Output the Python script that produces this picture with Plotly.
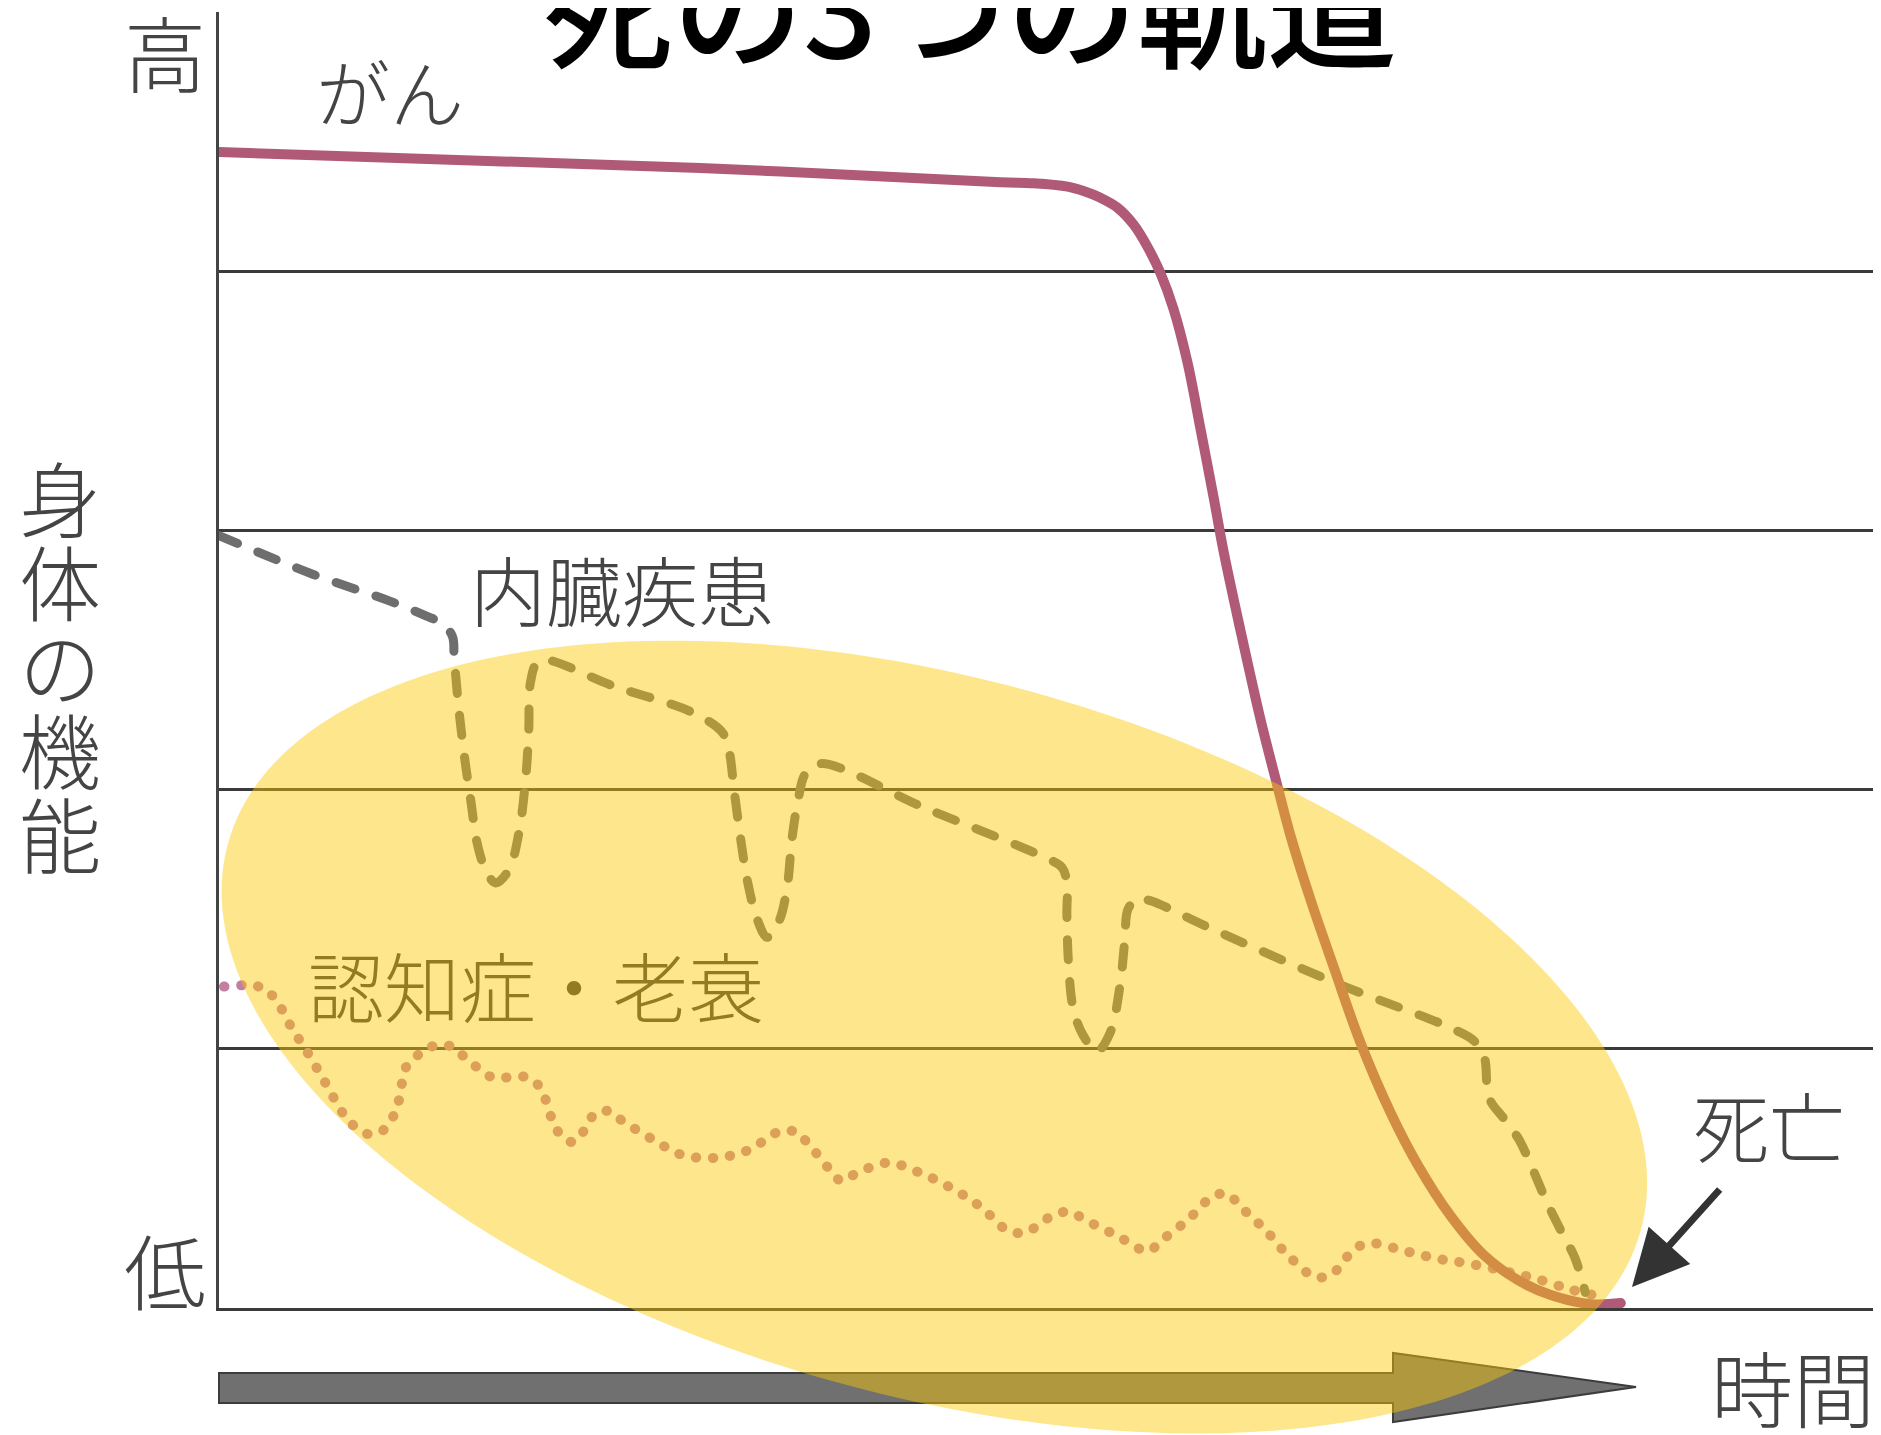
import numpy as np
import plotly.graph_objects as go

# ---------------- data ----------------
series_names = ['がん', '内臓疾患', '認知症・老衰']

cancer_x = [0, 29.06, 47.19, 49.18, 51.24, 52.21, 53.23, 54.26, 55.23, 56.07, 56.86, 57.64, 58.49,
            59.27, 60.06, 60.66, 61.69, 62.90, 63.93, 64.71, 65.92, 67.31, 68.94, 70.76, 72.39,
            74.38, 76.37, 78.43, 80.42, 82.84, 84.65]
cancer_y = [4.460, 4.398, 4.343, 4.339, 4.326, 4.309, 4.283, 4.245, 4.180, 4.094, 3.991, 3.854, 3.646,
            3.391, 3.128, 2.920, 2.612, 2.269, 2.010, 1.821, 1.574, 1.316, 1.022, 0.752, 0.552,
            0.355, 0.205, 0.108, 0.050, 0.015, 0.019]

organ_x = [0, 5.7, 10.2, 12.5, 13.5, 14.1, 14.2, 14.5, 14.9, 15.2, 15.6, 16.1, 16.7, 17.5, 18.1,
           18.5, 18.7, 18.8, 19.2, 19.8, 23.8, 28.5, 30.4, 30.8, 31.1, 31.5, 31.9, 32.5, 33.1, 33.8,
           34.3, 34.6, 35.0, 35.4, 36.3, 42.6, 49.8, 50.9, 51.2, 51.2, 51.3, 51.6, 52.2, 53.0, 53.8,
           54.4, 54.7, 54.9, 55.5, 56.3, 59.7, 67.6, 74.4, 75.8, 76.4, 76.7, 77.6, 78.5, 79.3, 80.1,
           81.1, 81.9, 82.5]
organ_y = [2.98, 2.83, 2.73, 2.67, 2.64, 2.59, 2.51, 2.30, 2.09, 1.96, 1.79, 1.69, 1.64, 1.69, 1.83,
           2.03, 2.22, 2.41, 2.49, 2.50, 2.40, 2.30, 2.22, 2.15, 2.00, 1.81, 1.65, 1.50, 1.43, 1.49,
           1.62, 1.81, 1.97, 2.06, 2.10, 1.93, 1.74, 1.70, 1.64, 1.52, 1.33, 1.15, 1.05, 0.99, 1.06,
           1.24, 1.42, 1.54, 1.58, 1.57, 1.47, 1.25, 1.08, 1.03, 0.97, 0.81, 0.73, 0.65, 0.54, 0.42,
           0.29, 0.19, 0.06]

dementia_x = [0.3, 2.4, 3.3, 4.4, 5.4, 6.5, 7.5, 8.2, 9.1, 10.0,
              10.6, 10.9, 11.3, 12.1, 12.9, 14.0, 14.8, 16.5, 17.5, 18.6,
              19.4, 20.1, 20.6, 21.4, 22.1, 22.7, 23.5, 24.4, 26.2, 28.0,
              30.1, 32.0, 33.8, 34.8, 35.5, 36.8, 37.6, 38.5, 40.4, 42.4,
              44.3, 46.0, 47.6, 48.6, 49.5, 50.4, 51.4, 52.3, 54.2, 56.1,
              56.9, 58.5, 60.0, 60.9, 61.7, 63.2, 64.6, 66.2, 67.2, 67.9,
              68.6, 69.6, 71.6, 73.6, 75.6, 77.8, 79.7, 81.7, 83.0]
dementia_y = [1.24, 1.24, 1.20, 1.08, 0.98, 0.86, 0.75, 0.70, 0.67, 0.69,
              0.75, 0.81, 0.93, 0.98, 1.01, 1.01, 0.97, 0.89, 0.89, 0.89,
              0.85, 0.73, 0.67, 0.64, 0.69, 0.75, 0.76, 0.72, 0.65, 0.59,
              0.58, 0.61, 0.68, 0.68, 0.64, 0.54, 0.49, 0.52, 0.56, 0.52,
              0.46, 0.39, 0.30, 0.29, 0.32, 0.36, 0.37, 0.34, 0.28, 0.22,
              0.26, 0.34, 0.43, 0.44, 0.39, 0.30, 0.20, 0.12, 0.13, 0.18,
              0.23, 0.25, 0.22, 0.19, 0.17, 0.14, 0.11, 0.07, 0.05]

grid_levels = [1, 2, 3, 4]
level_labels = ['低', '高']
y_title_chars = ['身', '体', 'の', '機', '能']
x_title = '時間'
death_label = '死亡'
chart_title = '死の3つの軌道'

# ---------------- layout geometry ----------------
OFF = 8                      # default page margin of the html body
W, H = 1881 - OFF, 1435 - OFF
L, R, T, B = 219 - OFF, 6, 12 - OFF, 127
PW, PH = W - L - R, H - T - B
FONT = 'Noto Sans CJK JP'
TXT = '#444444'


def fx(px):
    return (px - OFF - L) / PW


def fy(py):
    return (H - B - (py - OFF)) / PH


fig = go.Figure()
fig.add_trace(go.Scatter(x=dementia_x, y=dementia_y, mode='lines', name=series_names[2],
                         line=dict(color='#c47ea0', width=10, dash='0.5px,16.5px', shape='spline'),
                         cliponaxis=False, hoverinfo='skip'))
fig.add_trace(go.Scatter(x=organ_x, y=organ_y, mode='lines', name=series_names[1],
                         line=dict(color='#6e6e6e', width=9, dash='20px,22px', shape='spline'),
                         cliponaxis=False, hoverinfo='skip'))
fig.add_trace(go.Scatter(x=cancer_x, y=cancer_y, mode='lines', name=series_names[0],
                         line=dict(color='#b05a78', width=10, shape='spline', smoothing=1.0),
                         cliponaxis=False, hoverinfo='skip'))

# time arrow (below the highlight)
arrow_px = [(219, 1373), (1393, 1373), (1393, 1353), (1636, 1387), (1393, 1422), (1393, 1403), (219, 1403)]
arrow_path = 'M ' + ' L '.join(f'{fx(a):.5f},{fy(b):.5f}' for a, b in arrow_px) + ' Z'

# highlight ellipse: fitted through edge points traced on the reference (page pixels)
edge_px = np.array([
    (667, 642), (700, 642), (767, 643), (500, 657), (453, 670), (400, 685), (367, 703), (290, 747),
    (250, 790), (227, 833), (218, 883), (227, 950), (271, 1040), (334, 1117), (423, 1183), (512, 1237),
    (593, 1297), (900, 662), (987, 680), (1090, 707), (1133, 720), (1210, 752), (1278, 790),
    (1383, 840), (1463, 900), (1583, 1013), (1630, 1107), (1642, 1170), (1633, 1250), (1613, 1293),
    (1591, 1317), (1509, 1370), (1412, 1410), (1300, 1430)], dtype=float)
m = edge_px.mean(axis=0)
sc = 1000.0
X = (edge_px[:, 0] - m[0]) / sc
Y = (edge_px[:, 1] - m[1]) / sc
coef = np.linalg.lstsq(np.column_stack([X * X, X * Y, Y * Y, X, Y]), np.ones(len(X)), rcond=None)[0]
A, Bq, C, D, E = coef
x0, y0 = np.linalg.solve(np.array([[2 * A, Bq], [Bq, 2 * C]]), [-D, -E])
F0 = A * x0 * x0 + Bq * x0 * y0 + C * y0 * y0 + D * x0 + E * y0 - 1
w, V = np.linalg.eigh(np.array([[A, Bq / 2], [Bq / 2, C]]))
semi = np.sqrt(-F0 / w)
t = np.linspace(0, 2 * np.pi, 241)
pts = np.array([[x0], [y0]]) + V @ (semi[:, None] * np.vstack([np.cos(t), np.sin(t)]))
ex = pts[0] * sc + m[0]
ey = pts[1] * sc + m[1]
ell_path = 'M ' + ' L '.join(f'{fx(a):.5f},{fy(b):.5f}' for a, b in zip(ex, ey)) + ' Z'

shapes = [
    dict(type='path', path=arrow_path, xref='paper', yref='paper', layer='above',
         fillcolor='#707070', line=dict(color='#3c3c3c', width=2)),
    dict(type='path', path=ell_path, xref='paper', yref='paper', layer='above',
         fillcolor='rgba(250,200,5,0.46)', line=dict(width=0)),
]


def label(text, px, py, size, color=TXT, weight=300):
    return dict(text=text, x=fx(px), y=fy(py - 0.05 * size),
                xref='paper', yref='paper', xanchor='center', yanchor='middle', showarrow=False,
                font=dict(family=FONT, size=size, color=color, weight=weight))


annotations = [
    label(chart_title, 970, 7, 130, color='#000000', weight=500),
    label(level_labels[1], 165, 55, 82),
    label(level_labels[0], 165, 1273, 82),
    label(series_names[0], 390, 93, 74),
    label(series_names[1], 622, 592, 76),
    label(series_names[2], 536, 988, 76, color='rgb(146,123,34)'),
    label(death_label, 1769, 1128, 76),
    label(x_title, 1793, 1390, 82),
]
for i, ch in enumerate(y_title_chars):
    annotations.append(label(ch, 60, 500 + 84 * i, 82))

annotations.append(dict(x=fx(1632), y=fy(1287), xref='paper', yref='paper', text='',
                        showarrow=True, arrowhead=2, arrowsize=1.6, arrowwidth=7,
                        arrowcolor='#333333', ax=89, ay=-99, standoff=0))

fig.update_layout(
    width=W, height=H, margin=dict(l=L, r=R, t=T, b=B, pad=0),
    paper_bgcolor='white', plot_bgcolor='white', showlegend=False,
    xaxis=dict(range=[0, 100], showgrid=False, zeroline=False, showticklabels=False, ticks='',
               showline=True, linecolor='#3a3a3a', linewidth=3, fixedrange=True),
    yaxis=dict(range=[0, 5], tickvals=grid_levels, showgrid=True, gridcolor='#3a3a3a', gridwidth=3,
               zeroline=False, showticklabels=False, ticks='',
               showline=True, linecolor='#444444', linewidth=3, fixedrange=True),
    shapes=shapes, annotations=annotations,
)

post = ("document.querySelectorAll('.scatterlayer .js-line').forEach(function(p){"
        "p.style.strokeLinecap='round';p.style.strokeLinejoin='round';});")
fig.write_html('out.html', post_script=post, config={'displayModeBar': False})
